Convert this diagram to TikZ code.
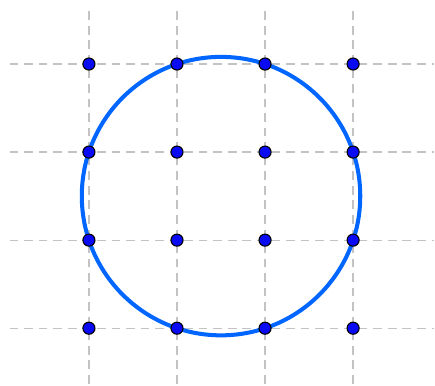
\documentclass[tikz,border=0pt]{standalone}
\usepackage{tikz}
\usetikzlibrary{calc}
\definecolor{gridgray}  {RGB}{195,195,195}
\definecolor{ringblue}  {RGB}{0,102,255}
\definecolor{dotblue}   {RGB}{10,10,245}

\begin{document}
\begin{tikzpicture}[
    gridline/.style={gridgray,line width=0.4pt,dash pattern=on 2.8pt off 1.9pt},
    ring/.style    ={ringblue,line width=1.3pt},
    lattice/.style ={draw=black,fill=dotblue,circle,line width=0.35pt,
                     inner sep=0pt,minimum size=3.9pt},
  ]
  \useasboundingbox (-1.01,-0.648) rectangle (3.93,3.727);

  %% Dashed grid
  \foreach \i in {0,...,3} {
    \draw[gridline] (\i,-0.63) -- (\i,3.61);
    \draw[gridline] (-0.9,\i) -- (3.92,\i);
  }

  %% Circle through the lattice points
  \coordinate (centre) at (1.5,1.5);
  \draw[ring] (centre) circle ({sqrt(2.5)});

  %% Lattice points
  \foreach \i in {0,...,3}
    \foreach \j in {0,...,3}
      \node[lattice] (p-\i-\j) at (\i,\j) {};
\end{tikzpicture}
\end{document}
